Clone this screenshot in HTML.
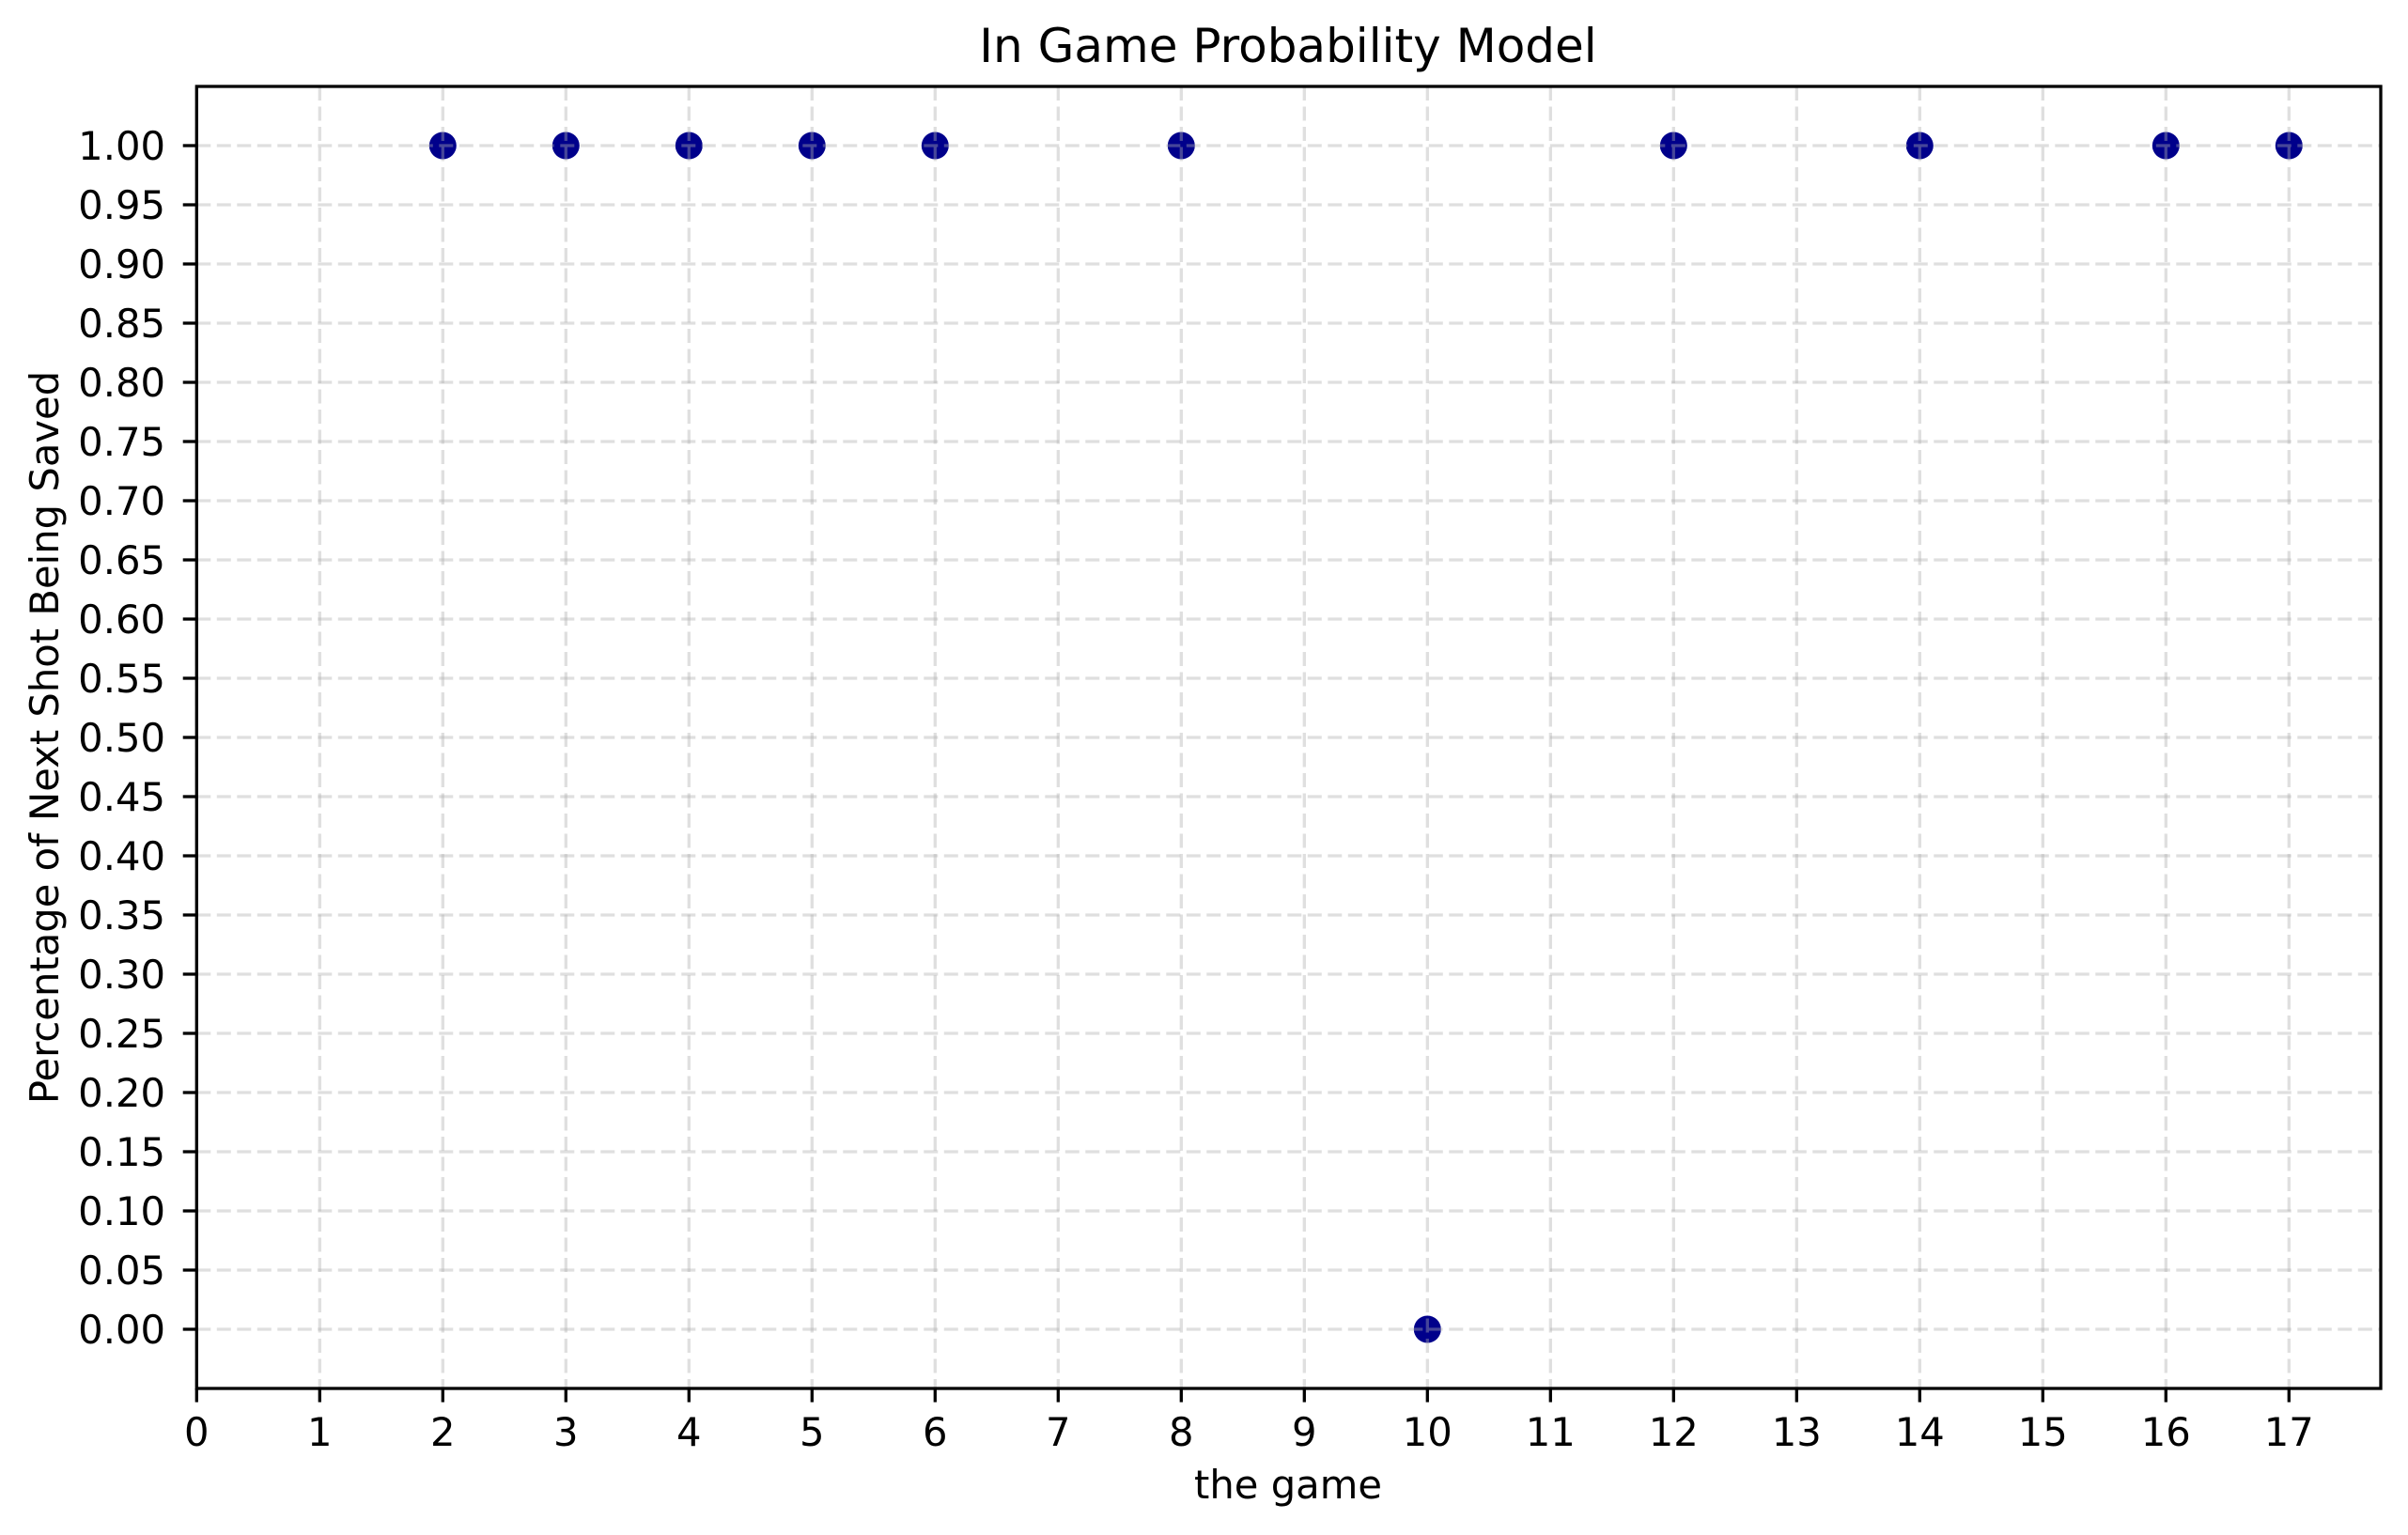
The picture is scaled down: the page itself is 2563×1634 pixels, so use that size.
<!DOCTYPE html>
<html><head><meta charset="utf-8"><style>
html,body{margin:0;padding:0;background:#fff;}
svg{display:block;font-family:"DejaVu Sans","Liberation Sans",sans-serif;}
</style></head><body>
<svg id="chart" width="2563" height="1634" viewBox="0 0 2563 1634">
<rect x="0" y="0" width="2563" height="1634" fill="#fff"/>
<text x="1371" y="66" font-size="50" text-anchor="middle" fill="#000">In Game Probability Model</text>
<text x="1371" y="1595" font-size="41.7" text-anchor="middle" fill="#000">the game</text>
<text x="0" y="0" font-size="41.7" text-anchor="middle" fill="#000" transform="translate(62,785) rotate(-90)">Percentage of Next Shot Being Saved</text>
<g id="grid"></g>
<g id="points"></g>
<g id="gridtop"></g>
<g id="axes"></g>
</svg>
<script>
const games = [2, 3, 4, 5, 6, 8, 10, 12, 14, 16, 17];
const saveProb = [1, 1, 1, 1, 1, 1, 0, 1, 1, 1, 1];
const xTicks = [0,1,2,3,4,5,6,7,8,9,10,11,12,13,14,15,16,17];
const yTickLabels = ["0.00","0.05","0.10","0.15","0.20","0.25","0.30","0.35","0.40","0.45","0.50","0.55","0.60","0.65","0.70","0.75","0.80","0.85","0.90","0.95","1.00"];

const L=209.3, R=2534, T=92, B=1478;
const X = v => L + v*131;
const Y = v => 1415 - v*1260;
const NS='http://www.w3.org/2000/svg';
function mk(tag, attrs, parent){const e=document.createElementNS(NS,tag);for(const k in attrs)e.setAttribute(k,attrs[k]);parent.appendChild(e);return e;}
const gt=document.getElementById('gridtop'), pts=document.getElementById('points'), ax=document.getElementById('axes');

xTicks.forEach(t=>{
  const gl=mk('line',{x1:X(t),x2:X(t),y1:T,y2:B,stroke:'#b0b0b0','stroke-opacity':0.4,'stroke-width':3.3,'stroke-dasharray':'15 6.5'},gt);
  
  
  const tk=mk('line',{x1:X(t),x2:X(t),y1:B,y2:B+14.6,stroke:'#000','stroke-width':3.3},ax);
  
  
  const lb=mk('text',{x:X(t),y:1539,'font-size':41.7,'text-anchor':'middle',fill:'#000'},ax);
  lb.textContent=String(t);
  
  
});
yTickLabels.forEach(s=>{
  const v=parseFloat(s);
  const gl=mk('line',{x1:L,x2:R,y1:Y(v),y2:Y(v),stroke:'#b0b0b0','stroke-opacity':0.4,'stroke-width':3.3,'stroke-dasharray':'15 6.5'},gt);
  
  
  const tk=mk('line',{x1:L-14.6,x2:L,y1:Y(v),y2:Y(v),stroke:'#000','stroke-width':3.3},ax);
  
  
  const lb=mk('text',{x:176,y:Y(v)+15,'font-size':41.7,'text-anchor':'end',fill:'#000'},ax);
  lb.textContent=s;
  
  
});
games.forEach((g,i)=>{
  const c=mk('circle',{cx:X(g),cy:Y(saveProb[i]),r:14.5,fill:'#00008b'},pts);
  
  
});
const fr=mk('rect',{x:L,y:T,width:R-L,height:B-T,fill:'none',stroke:'#000','stroke-width':3.3},ax);


</script>
</body></html>
